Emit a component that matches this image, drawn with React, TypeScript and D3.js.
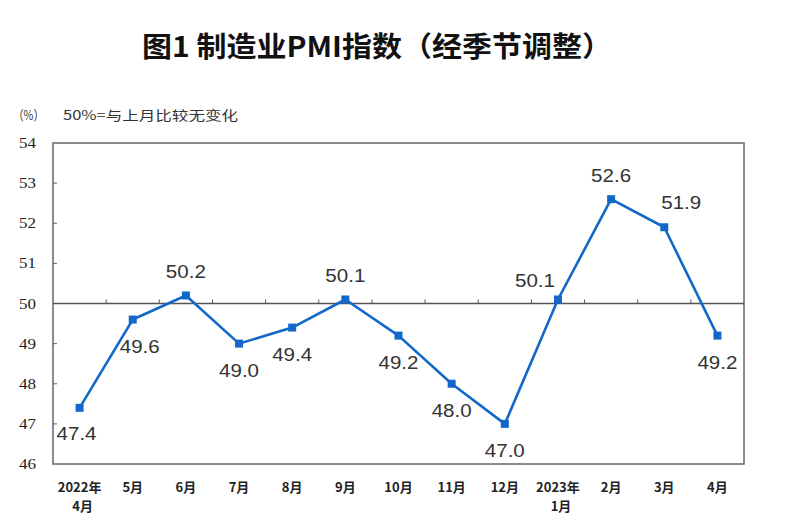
import React from "react";
import * as d3 from "d3";

const categories = ["2022年\n4月", "5月", "6月", "7月", "8月", "9月", "10月", "11月", "12月", "2023年\n1月", "2月", "3月", "4月"];
const pmiValues = [47.4, 49.6, 50.2, 49.0, 49.4, 50.1, 49.2, 48.0, 47.0, 50.1, 52.6, 51.9, 49.2];
const yTicks = [46, 47, 48, 49, 50, 51, 52, 53, 54];
const labelPlacement = ["bl", "br", "a", "b", "b", "a", "b", "b", "b", "al", "a", "ar", "b"];

const W = 786;
const H = 530;
const L = 53;
const R = 744;
const T = 143;
const B = 464;

export default function App() {
  const x = d3.scaleBand<number>().domain(d3.range(categories.length)).range([L, R]);
  const cx = (i: number) => (x(i) as number) + x.bandwidth() / 2;
  const y = d3.scaleLinear().domain([46, 54]).range([B, T]);
  const line = d3
    .line<number>()
    .x((_, i) => cx(i))
    .y((d) => y(d));
  const blue = "#1268c9";
  const offsets: Record<string, [number, number]> = {
    b: [0, 27],
    bl: [-3, 26],
    br: [7, 27],
    a: [0, -24],
    al: [-23, -19],
    ar: [17, -25],
  };
  return (
    <svg width={W} height={H} style={{ position: "absolute", left: 0, top: 0, background: "#fff" }}>
      <rect x={0} y={0} width={W} height={H} fill="#fff" />
      <text
        x={377}
        y={57}
        textAnchor="middle"
        fontFamily="Noto Sans CJK SC"
        fontWeight={700}
        fontSize={28}
        fill="#111"
        textLength={470}
        lengthAdjust="spacingAndGlyphs"
      >
        图1 制造业PMI指数（经季节调整）
      </text>
      <text x={13} y={120} fontFamily="Noto Sans CJK SC" fontSize={13} fill="#333" textLength={31} lengthAdjust="spacingAndGlyphs">
        （%）
      </text>
      <text x={63} y={120} fontFamily="Noto Sans CJK SC" fontSize={13} fill="#333" textLength={175} lengthAdjust="spacingAndGlyphs">
        50%=与上月比较无变化
      </text>
      {/* plot box */}
      <rect x={L} y={T} width={R - L} height={B - T} fill="none" stroke="#666" strokeWidth={1.5} />
      {/* y ticks */}
      {yTicks.map((t) => (
        <g key={t}>
          {t > 46 && t < 54 && <line x1={L} x2={L + 4} y1={y(t)} y2={y(t)} stroke="#666" strokeWidth={1} />}
          <text x={36} y={y(t) + 5} textAnchor="end" fontFamily="Liberation Serif" fontSize={15} fill="#222" textLength={17} lengthAdjust="spacingAndGlyphs">
            {t}
          </text>
        </g>
      ))}
      {/* 50 line */}
      <line x1={L} x2={R} y1={y(50)} y2={y(50)} stroke="#555" strokeWidth={1.3} />
      {d3.range(1, categories.length).map((i) => (
        <line key={i} x1={x(i) as number} x2={x(i) as number} y1={y(50)} y2={y(50) - 4} stroke="#555" strokeWidth={1} />
      ))}
      {/* x labels */}
      {categories.map((c, i) => {
        const parts = c.split("\n");
        return (
          <text key={i} x={cx(i)} y={492} textAnchor="middle" fontFamily="Noto Sans CJK SC" fontWeight={700} fontSize={13} fill="#222">
            {parts.map((p, j) => (
              <tspan key={j} x={cx(i) + (j > 0 ? 3 : 0)} dy={j === 0 ? 0 : 19}>
                {p}
              </tspan>
            ))}
          </text>
        );
      })}
      {/* line */}
      <path d={line(pmiValues) as string} fill="none" stroke={blue} strokeWidth={2.6} strokeLinejoin="round" />
      {pmiValues.map((v, i) => (
        <rect key={i} x={cx(i) - 4} y={y(v) - 4} width={8} height={8} fill={blue} />
      ))}
      {pmiValues.map((v, i) => {
        const [dx, dy] = offsets[labelPlacement[i]];
        return (
          <text
            key={"l" + i}
            x={cx(i) + dx}
            y={y(v) + dy}
            textAnchor="middle"
            dominantBaseline="central"
            fontFamily="Liberation Sans"
            fontSize={18.5}
            fill="#333"
            textLength={40}
            lengthAdjust="spacingAndGlyphs"
          >
            {v.toFixed(1)}
          </text>
        );
      })}
    </svg>
  );
}
